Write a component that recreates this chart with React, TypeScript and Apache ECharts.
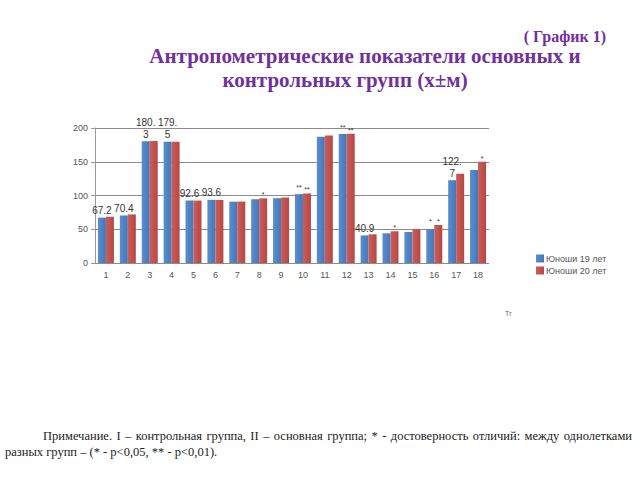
import React, { useEffect, useRef } from "react";
import * as echarts from "echarts";

const categories = ["1","2","3","4","5","6","7","8","9","10","11","12","13","14","15","16","17","18"];
const seriesNames = ["Юноши 19 лет", "Юноши 20 лет"];
const boys19 = [67.2, 70.4, 180.3, 179.5, 92.6, 93.6, 90.9, 94.3, 96, 102, 187, 191, 40.9, 44, 46, 50.4, 122.7, 137.8];
const boys20 = [68.5, 72, 180.8, 179.8, 92.5, 93.4, 91, 95.8, 97, 103, 189, 191.5, 42.5, 47, 50, 56.3, 132.3, 150];
// data labels shown on the picture (blue series); null = none
const boys19Labels = ["67.2", "70.4", "180.\n3", "179.\n5", "92.6", "93.6", null, null, null, "**", null, "**", "40.9", null, null, "*", "122.\n7", null];
// significance marks on the red series
const boys20Marks = [null, null, null, null, null, null, null, "*", null, "**", null, "**", null, "*", null, "*", null, "*"];
const yTicks = [0, 50, 100, 150, 200];
const noteLine1 = "Примечание. I – контрольная группа, II – основная группа; * - достоверность отличий: между однолетками";
const noteLine2 = "разных групп – (* - p<0,05, ** - p<0,01).";

function justifiedWords(text: string, x0: number, x1: number, y: number, font: string) {
  const words = text.split(" ");
  const ctx = document.createElement("canvas").getContext("2d")!;
  ctx.font = font;
  const widths = words.map((w) => ctx.measureText(w).width);
  const total = widths.reduce((a, b) => a + b, 0);
  const gap = Math.max(2, (x1 - x0 - total) / (words.length - 1));
  let x = x0;
  return words.map((w, i) => {
    const el = { type: "text", x, y, style: { text: w, font, fill: "#222", verticalAlign: "middle" } };
    x += widths[i] + gap;
    return el;
  });
}

export default function App() {
  const ref = useRef<HTMLDivElement>(null);
  useEffect(() => {
    if (!ref.current) return;
    const chart = echarts.init(ref.current, undefined, { renderer: "svg" });
    const purple = "#7030A0";
    const noteFont = "12.5px 'Liberation Serif'";
    const blueGrad = new echarts.graphic.LinearGradient(0, 0, 1, 0, [
      { offset: 0, color: "#5A8ED0" },
      { offset: 1, color: "#4677B6" },
    ]);
    const redGrad = new echarts.graphic.LinearGradient(0, 0, 1, 0, [
      { offset: 0, color: "#CB5E5A" },
      { offset: 1, color: "#B64744" },
    ]);
    chart.setOption({
      animation: false,
      backgroundColor: "#ffffff",
      textStyle: { fontFamily: "Liberation Sans" },
      graphic: [
        { type: "text", x: 606, y: 36, style: { text: "( График 1)", font: "bold 16px 'Liberation Serif'", fill: purple, align: "right", verticalAlign: "middle" } },
        { type: "text", x: 365, y: 56, style: { text: "Антропометрические показатели основных и", font: "bold 21px 'Liberation Serif'", fill: purple, align: "center", verticalAlign: "middle" } },
        { type: "text", x: 345, y: 80, style: { text: "контрольных групп (х±м)", font: "bold 21px 'Liberation Serif'", fill: purple, align: "center", verticalAlign: "middle" } },
        { type: "text", x: 505, y: 313, style: { text: "Тг", font: "7px 'Liberation Sans'", fill: "#666", verticalAlign: "middle" } },
        ...justifiedWords(noteLine1, 43, 632, 436, noteFont),
        { type: "text", x: 5, y: 452, style: { text: noteLine2, font: noteFont, fill: "#222", verticalAlign: "middle" } },
      ],
      legend: {
        orient: "vertical",
        left: 531,
        top: 249,
        itemWidth: 8,
        itemHeight: 8,
        itemGap: 3,
        icon: "rect",
        textStyle: { fontSize: 9, color: "#555", padding: [0, 0, 0, -3] },
        data: seriesNames,
      },
      grid: { left: 95, right: 151, top: 128, bottom: 217 },
      xAxis: {
        type: "category",
        data: categories,
        axisLine: { show: false },
        axisTick: { show: false },
        axisLabel: { fontSize: 9, color: "#555", margin: 7 },
      },
      yAxis: {
        type: "value",
        min: yTicks[0],
        max: yTicks[yTicks.length - 1],
        interval: 50,
        axisLine: { show: true, lineStyle: { color: "#999" } },
        axisTick: { show: true, inside: false, length: 4, lineStyle: { color: "#999" } },
        axisLabel: { fontSize: 9, color: "#555", margin: 7 },
        splitLine: { lineStyle: { color: "#8c8c8c", width: 1 } },
      },
      series: [
        {
          name: seriesNames[0],
          type: "bar",
          barWidth: 8,
          barGap: "0%",
          itemStyle: { color: blueGrad },
          data: boys19.map((v, i) => ({
            value: v,
            label: boys19Labels[i]
              ? {
                  show: true,
                  position: "top",
                  distance: 1,
                  formatter: boys19Labels[i],
                  fontSize: boys19Labels[i]!.startsWith("*") ? 7 : 10,
                  lineHeight: 12,
                  color: "#333",
                }
              : { show: false },
          })),
        },
        {
          name: seriesNames[1],
          type: "bar",
          barWidth: 8,
          barGap: "0%",
          itemStyle: { color: redGrad },
          data: boys20.map((v, i) => ({
            value: v,
            label: boys20Marks[i]
              ? { show: true, position: "top", distance: 0, formatter: boys20Marks[i], fontSize: 7, color: "#333" }
              : { show: false },
          })),
        },
      ],
    });
    return () => chart.dispose();
  }, []);
  return <div ref={ref} style={{ width: 640, height: 480, position: "absolute", left: 0, top: 0 }} />;
}
